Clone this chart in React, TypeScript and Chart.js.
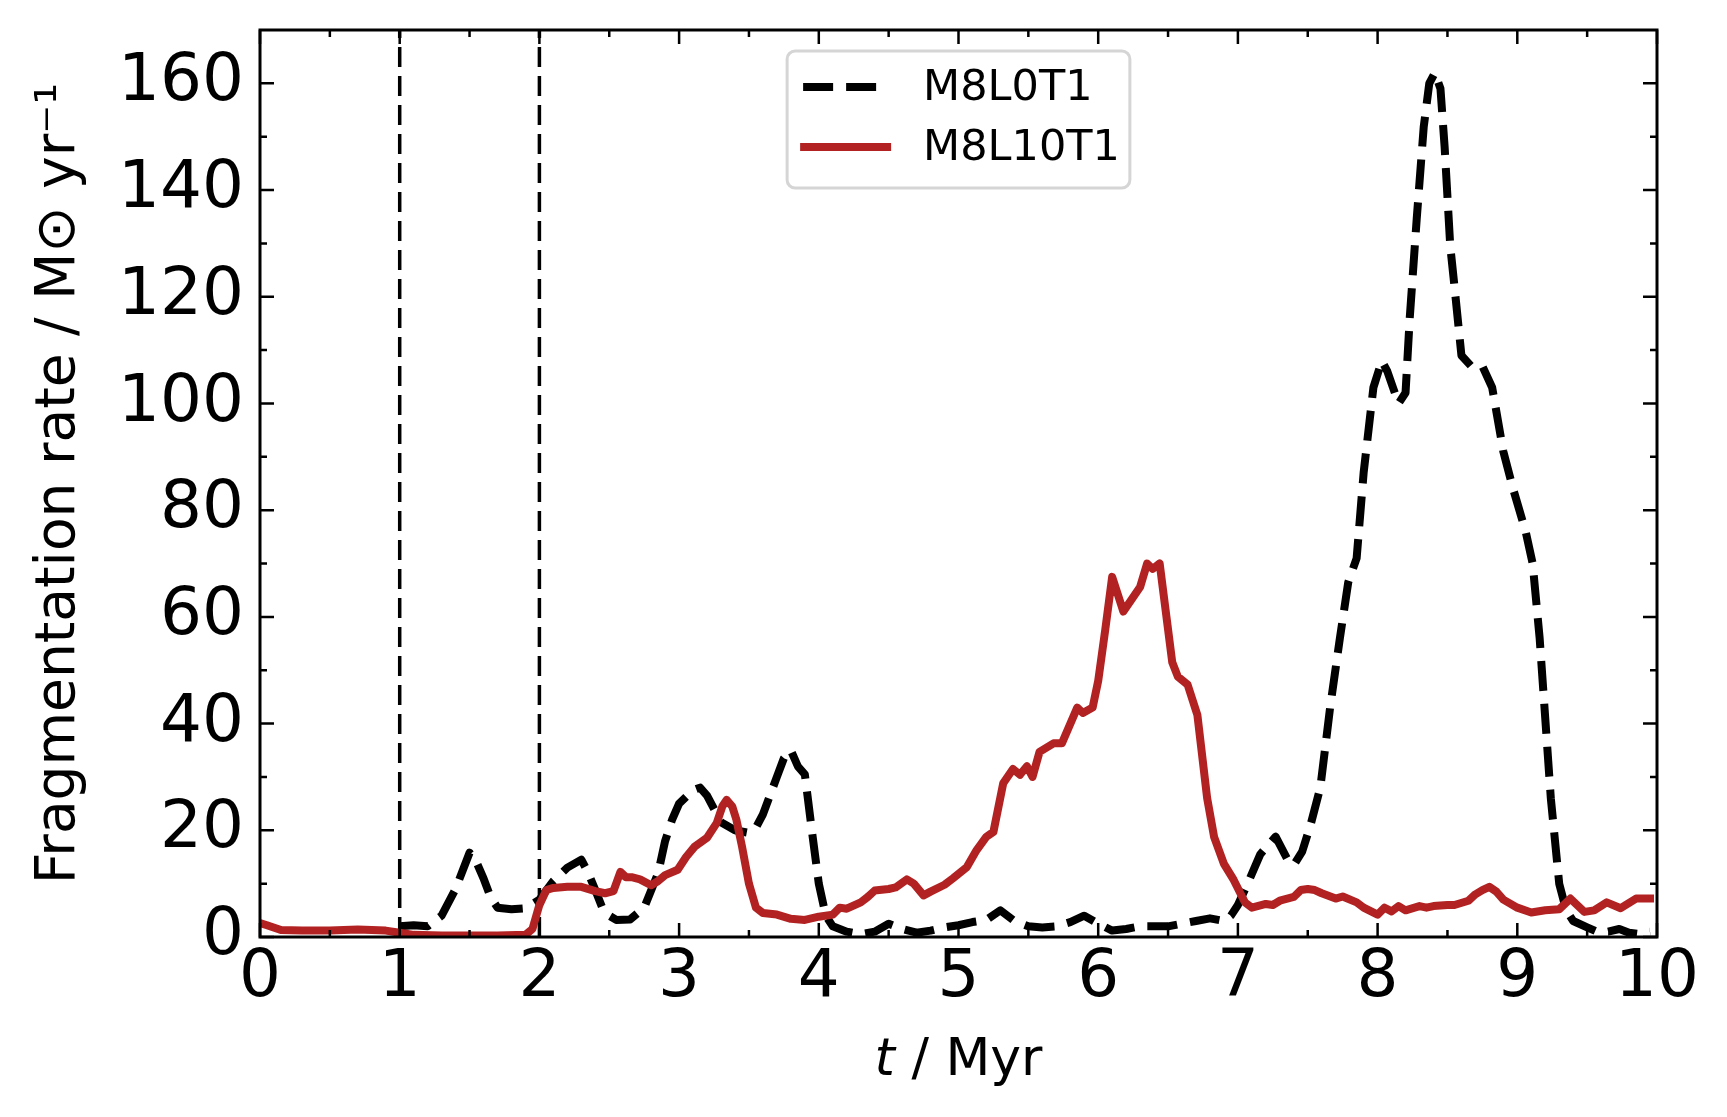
import { useEffect, useRef } from 'react';
import { Chart, registerables } from 'chart.js';

Chart.register(...registerables);

// M8L0T1 (black dashed), t in Myr, rate in Msun/yr
const timeNoLaunch = [
  1.0, 1.1, 1.2, 1.3, 1.4, 1.5, 1.55, 1.6, 1.65, 1.7, 1.8, 1.9, 2.0, 2.1, 2.2, 2.3, 2.35, 2.4, 2.45, 2.5,
  2.55, 2.65, 2.75, 2.85, 2.9, 2.95, 3.0, 3.1, 3.15, 3.2, 3.25, 3.3, 3.4, 3.5, 3.55, 3.6, 3.7, 3.75, 3.8, 3.85,
  3.9, 3.95, 4.0, 4.05, 4.1, 4.2, 4.3, 4.4, 4.5, 4.6, 4.7, 4.8, 4.9, 5.0, 5.1, 5.2, 5.3, 5.4, 5.5, 5.6,
  5.7, 5.8, 5.9, 6.0, 6.1, 6.2, 6.3, 6.4, 6.5, 6.6, 6.7, 6.8, 6.9, 6.95, 7.0, 7.07, 7.16, 7.27, 7.35, 7.4,
  7.46, 7.52, 7.59, 7.66, 7.73, 7.79, 7.85, 7.9, 7.97, 8.03, 8.07, 8.15, 8.2, 8.23, 8.28, 8.33, 8.37, 8.41, 8.45, 8.48,
  8.52, 8.55, 8.6, 8.67, 8.75, 8.82, 8.9, 8.97, 9.06, 9.11, 9.16, 9.2, 9.24, 9.3, 9.35, 9.4, 9.5, 9.57, 9.65, 9.73,
  9.8, 9.86, 9.95,
];
const rateNoLaunch = [
  2.0, 2.2, 2.0, 4.0, 9.0, 15.8, 14.0, 11.0, 7.5, 5.5, 5.2, 5.4, 7.0, 10.5, 13.0, 14.5, 12.0, 8.8, 5.5, 4.0,
  3.2, 3.3, 5.5, 12.0, 18.0, 22.0, 25.0, 27.5, 28.0, 26.5, 24.0, 21.5, 20.0, 19.5, 20.5, 23.0, 30.0, 33.5, 35.0, 32.0,
  30.5, 20.0, 10.0, 4.0, 2.0, 1.0, 0.5, 1.0, 2.5, 1.5, 0.8, 1.2, 1.8, 2.2, 2.8, 3.2, 5.0, 3.0, 2.0, 1.8,
  2.0, 2.8, 4.0, 2.5, 1.2, 1.5, 2.0, 2.0, 2.0, 2.5, 3.0, 3.5, 3.0, 4.0, 6.0, 10.0, 15.5, 18.8, 14.8, 13.5,
  16.0, 21.0, 28.0, 43.0, 56.0, 66.5, 71.0, 87.0, 103.0, 108.0, 106.0, 100.0, 102.0, 116.0, 134.6, 151.8, 160.0, 162.0, 159.0, 148.0,
  129.5, 122.0, 109.0, 107.0, 107.0, 103.0, 91.0, 84.0, 76.0, 70.0, 56.0, 41.0, 26.0, 10.0, 5.0, 3.0, 1.8, 1.0, 1.0, 1.5,
  0.8, 0.6, 1.0,
];

// M8L10T1 (red solid)
const timeLaunch = [
  0.0, 0.05, 0.15, 0.3, 0.5, 0.7, 0.9, 1.0, 1.1, 1.3, 1.5, 1.7, 1.9, 1.95, 2.0, 2.05, 2.1, 2.2, 2.3, 2.4,
  2.47, 2.53, 2.58, 2.62, 2.66, 2.72, 2.8, 2.85, 2.9, 2.99, 3.05, 3.11, 3.2, 3.27, 3.31, 3.34, 3.38, 3.41, 3.45, 3.5,
  3.55, 3.6, 3.7, 3.8, 3.9, 4.0, 4.1, 4.15, 4.2, 4.3, 4.35, 4.4, 4.5, 4.55, 4.63, 4.68, 4.75, 4.8, 4.9, 4.96,
  5.06, 5.13, 5.2, 5.25, 5.32, 5.39, 5.44, 5.49, 5.53, 5.58, 5.68, 5.74, 5.85, 5.89, 5.96, 6.0, 6.05, 6.1, 6.18, 6.3,
  6.35, 6.39, 6.44, 6.53, 6.57, 6.64, 6.71, 6.78, 6.83, 6.9, 6.97, 7.05, 7.1, 7.2, 7.25, 7.3, 7.4, 7.45, 7.5, 7.55,
  7.6, 7.7, 7.75, 7.85, 7.9, 8.0, 8.05, 8.1, 8.15, 8.2, 8.3, 8.35, 8.4, 8.5, 8.55, 8.65, 8.7, 8.75, 8.8, 8.85,
  8.9, 9.0, 9.1, 9.2, 9.3, 9.38, 9.48, 9.55, 9.64, 9.74, 9.85, 9.95,
];
const rateLaunch = [
  2.6, 2.2, 1.3, 1.2, 1.2, 1.4, 1.2, 0.8, 0.4, 0.3, 0.3, 0.3, 0.4, 1.5, 6.0, 8.8, 9.2, 9.4, 9.4, 8.6,
  8.2, 8.6, 12.2, 11.2, 11.2, 10.8, 9.7, 10.5, 11.6, 12.6, 15.0, 16.9, 18.6, 21.4, 24.5, 25.7, 24.5, 22.0, 17.0, 10.0,
  5.5, 4.5, 4.2, 3.4, 3.2, 3.8, 4.2, 5.5, 5.3, 6.5, 7.5, 8.7, 9.0, 9.3, 10.8, 10.0, 7.8, 8.5, 9.8, 11.0,
  13.1, 16.3, 18.8, 19.7, 28.8, 31.5, 30.4, 32.0, 30.0, 34.7, 36.3, 36.3, 43.0, 42.0, 43.0, 48.0, 57.5, 67.5, 61.0, 65.6,
  70.0, 69.0, 70.0, 51.5, 48.8, 47.3, 41.6, 26.0, 18.7, 13.7, 10.7, 6.5, 5.5, 6.2, 6.0, 6.8, 7.5, 8.8, 9.0, 8.8,
  8.2, 7.2, 7.6, 6.5, 5.5, 4.2, 5.5, 4.8, 5.8, 5.0, 5.8, 5.5, 5.8, 6.0, 6.0, 6.8, 8.0, 8.8, 9.4, 8.5,
  7.0, 5.5, 4.6, 5.0, 5.2, 7.2, 4.7, 5.0, 6.5, 5.4, 7.2, 7.2,
];

const seriesLabels = ['M8L0T1', 'M8L10T1'];
const markerTimes = [1, 2];
const xTickValues = [0, 1, 2, 3, 4, 5, 6, 7, 8, 9, 10];
const yTickValues = [0, 20, 40, 60, 80, 100, 120, 140, 160];

const FONT = "'DejaVu Sans', sans-serif";

const axesFrame = {
  id: 'axesFrame',
  afterDatasetsDraw(chart: any) {
    const { ctx, chartArea: a, scales } = chart;
    const x = scales.x;
    const y = scales.y;
    ctx.save();
    ctx.strokeStyle = '#000';
    ctx.lineWidth = 2.5;
    ctx.beginPath();
    const xMark = (v: number, len: number) => {
      const p = x.getPixelForValue(v);
      ctx.moveTo(p, a.bottom);
      ctx.lineTo(p, a.bottom - len);
      ctx.moveTo(p, a.top);
      ctx.lineTo(p, a.top + len);
    };
    const yMark = (v: number, len: number) => {
      const p = y.getPixelForValue(v);
      ctx.moveTo(a.left, p);
      ctx.lineTo(a.left + len, p);
      ctx.moveTo(a.right, p);
      ctx.lineTo(a.right - len, p);
    };
    xTickValues.forEach((v, i) => {
      xMark(v, 14);
      if (i < xTickValues.length - 1) xMark((v + xTickValues[i + 1]) / 2, 7);
    });
    yTickValues.forEach((v, i) => {
      yMark(v, 14);
      if (i < yTickValues.length - 1) yMark((v + yTickValues[i + 1]) / 2, 7);
    });
    ctx.stroke();
    ctx.lineWidth = 3;
    ctx.strokeRect(a.left, a.top, a.right - a.left, a.bottom - a.top);

    // x axis title with italic t
    const cx = (a.left + a.right) / 2;
    const base = 1075;
    ctx.fillStyle = '#000';
    ctx.textBaseline = 'alphabetic';
    ctx.textAlign = 'left';
    ctx.font = `italic 52px ${FONT}`;
    const tw = ctx.measureText('t').width;
    ctx.font = `52px ${FONT}`;
    const rest = ' / Myr';
    const rw = ctx.measureText(rest).width;
    const start = cx - (tw + rw) / 2;
    ctx.font = `italic 52px ${FONT}`;
    ctx.fillText('t', start, base);
    ctx.font = `52px ${FONT}`;
    ctx.fillText(rest, start + tw, base);
    ctx.restore();
  },
};

const boxLegend = {
  id: 'boxLegend',
  afterDraw(chart: any) {
    const { ctx, chartArea: a } = chart;
    const items = chart.data.datasets.filter((d: any) => seriesLabels.includes(d.label));
    ctx.save();
    ctx.font = `43px ${FONT}`;
    const textW = Math.max(...items.map((d: any) => ctx.measureText(d.label).width));
    const padL = 13;
    const handle = 91;
    const gap = 32;
    const padR = 10;
    const w = padL + handle + gap + textW + padR;
    const h = 137;
    const left = (a.left + a.right) / 2 - w / 2;
    const top = a.top + 21;
    ctx.beginPath();
    ctx.roundRect(left, top, w, h, 8);
    ctx.fillStyle = 'rgba(255,255,255,0.85)';
    ctx.fill();
    ctx.strokeStyle = '#d5d5d5';
    ctx.lineWidth = 3;
    ctx.stroke();
    items.forEach((d: any, i: number) => {
      const cy = top + 36 + i * 60;
      ctx.beginPath();
      ctx.strokeStyle = d.borderColor;
      ctx.lineWidth = d.borderWidth;
      ctx.setLineDash(d.borderDash || []);
      ctx.lineCap = d.borderDash && d.borderDash.length ? 'butt' : 'square';
      const inset = d.borderDash && d.borderDash.length ? 3 : 4;
      ctx.moveTo(left + padL + inset, cy);
      ctx.lineTo(left + padL + handle - inset, cy);
      ctx.stroke();
      ctx.setLineDash([]);
      ctx.fillStyle = '#000';
      ctx.textAlign = 'left';
      ctx.textBaseline = 'middle';
      ctx.fillText(d.label, left + padL + handle + gap, cy + 2);
    });
    ctx.restore();
  },
};

export default function App() {
  const canvasRef = useRef<HTMLCanvasElement>(null);
  const chartRef = useRef<Chart | null>(null);

  useEffect(() => {
    if (!canvasRef.current) return;
    if (chartRef.current) chartRef.current.destroy();

    const toPoints = (ts: number[], vs: number[]) => ts.map((t, i) => ({ x: t, y: vs[i] }));

    const markerSets = markerTimes.map((t) => ({
      label: `marker-${t}`,
      data: [{ x: t, y: 0 }, { x: t, y: 170 }],
      borderColor: '#000',
      borderWidth: 3.5,
      borderDash: [20, 9],
      pointRadius: 0,
      order: 2,
    }));

    chartRef.current = new Chart(canvasRef.current, {
      type: 'line',
      data: {
        datasets: [
          {
            label: seriesLabels[0],
            data: toPoints(timeNoLaunch, rateNoLaunch),
            borderColor: '#000000',
            borderWidth: 8,
            borderDash: [30, 13],
            borderCapStyle: 'butt',
            borderJoinStyle: 'round',
            pointRadius: 0,
            tension: 0,
            order: 1,
          },
          {
            label: seriesLabels[1],
            data: toPoints(timeLaunch, rateLaunch),
            borderColor: '#b22222',
            borderWidth: 8,
            borderCapStyle: 'square',
            borderJoinStyle: 'round',
            pointRadius: 0,
            tension: 0,
            order: 0,
          },
          ...markerSets,
        ],
      },
      options: {
        responsive: false,
        animation: false,
        devicePixelRatio: 1,
        layout: { padding: { left: 0, top: 30, right: 70, bottom: 0 } },
        plugins: {
          legend: { display: false },
          tooltip: { enabled: false },
        },
        scales: {
          x: {
            type: 'linear',
            min: 0,
            max: 10,
            grid: { display: false, drawTicks: false },
            border: { display: false },
            ticks: {
              color: '#000',
              padding: 2,
              font: { family: FONT, size: 66 },
            },
            afterBuildTicks: (scale: any) => {
              scale.ticks = xTickValues.map((value) => ({ value }));
            },
            afterFit: (scale: any) => {
              scale.height = 180;
              scale.paddingLeft = 0;
              scale.paddingRight = 0;
            },
          },
          y: {
            type: 'linear',
            min: 0,
            max: 170,
            grid: { display: false, drawTicks: false },
            border: { display: false },
            ticks: {
              color: '#000',
              padding: 16,
              font: { family: FONT, size: 66 },
            },
            title: {
              display: true,
              text: 'Fragmentation rate / M⊙ yr⁻¹',
              color: '#000',
              font: { family: FONT, size: 55 },
              padding: { top: 27, bottom: 0 },
            },
            afterBuildTicks: (scale: any) => {
              scale.ticks = yTickValues.map((value) => ({ value }));
            },
            afterFit: (scale: any) => {
              scale.width = 260;
              scale.paddingTop = 0;
              scale.paddingBottom = 0;
            },
          },
        },
      },
      plugins: [axesFrame, boxLegend],
    });

    return () => {
      if (chartRef.current) {
        chartRef.current.destroy();
        chartRef.current = null;
      }
    };
  }, []);

  return (
    <div style={{ position: 'fixed', left: 0, top: 0, width: 1727, height: 1117, background: '#fff' }}>
      <canvas ref={canvasRef} width={1727} height={1117} style={{ width: 1727, height: 1117 }} />
    </div>
  );
}
